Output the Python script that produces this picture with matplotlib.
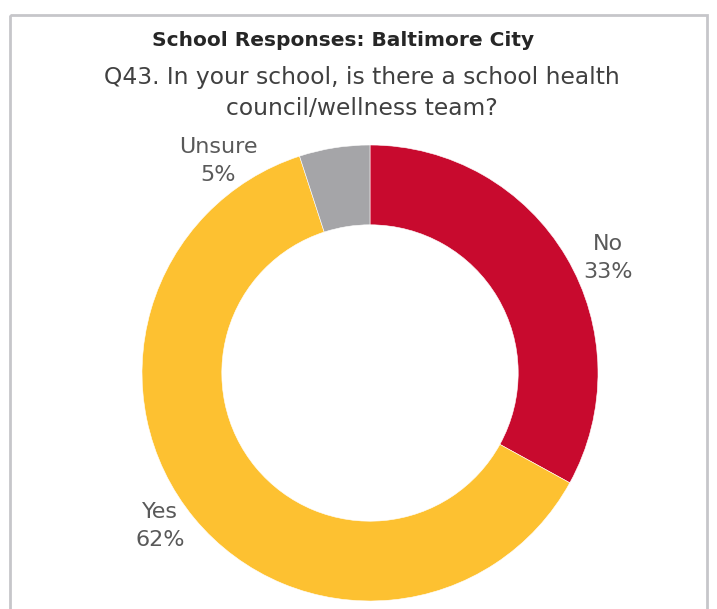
import matplotlib.pyplot as plt
from matplotlib.patches import Rectangle

plt.rcParams["font.family"] = ["DejaVu Sans"]

# survey answers, clockwise from 12 o'clock
labels = ["No", "Yes", "Unsure"]
shares = [33, 62, 5]
colors = ["#C80A2E", "#FDC131", "#A5A5A8"]

title = "School Responses: Baltimore City"
question = "Q43. In your school, is there a school health\ncouncil/wellness team?"

W, H = 717, 609
fig = plt.figure(figsize=(W / 100, H / 100), dpi=100)
ax = fig.add_axes([0, 0, 1, 1])

# panel frame (open at the bottom)
ax.add_patch(Rectangle((10, 15), 697, 620, fill=False, ec="#C6C6CA", lw=2.0))

cx, cy, r = 370, 373, 228
# y axis runs downward, so counterclock in data = clockwise on screen
ax.pie(shares, colors=colors, startangle=-90, counterclock=True,
       radius=r, center=(cx, cy),
       wedgeprops=dict(width=r * 0.35, edgecolor="white", linewidth=0.4))
ax.set_xlim(0, W)
ax.set_ylim(H, 0)
ax.set_aspect("equal")
ax.axis("off")

txt = "#595959"
ax.text(343, 40, title, ha="center", va="center", fontsize=14.5,
        fontweight="bold", color="#262626")
ax.text(362, 93, question, ha="center", va="center", fontsize=16.8,
        color="#404040", linespacing=1.4)

label_pos = {"No": (608, 258), "Yes": (160, 526), "Unsure": (218, 161)}
for lab, val in zip(labels, shares):
    x, y = label_pos[lab]
    ax.text(x, y, f"{lab}\n{val}%", ha="center", va="center", fontsize=16,
            color=txt, linespacing=1.5)

fig.savefig("out.png", dpi=100)
